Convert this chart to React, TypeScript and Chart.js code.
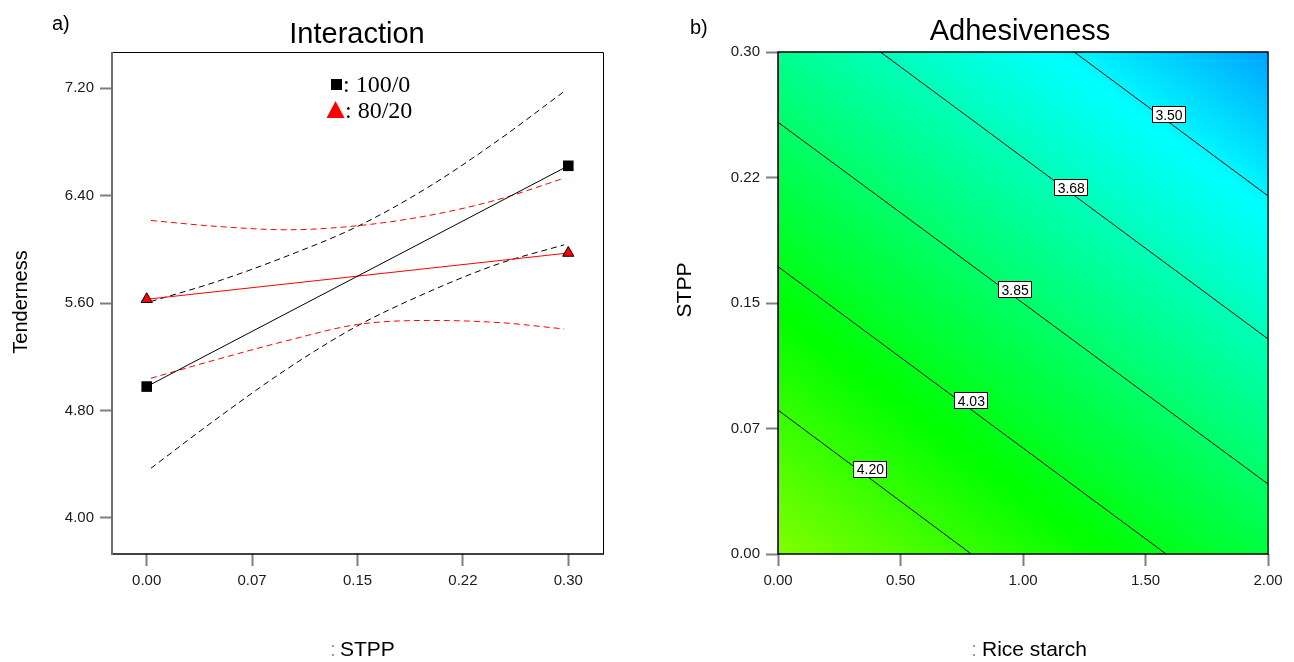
import React, { useEffect, useRef } from 'react';
import { Chart, registerables } from 'chart.js';

Chart.register(...registerables);

// ---------------- a) Interaction ----------------
const stppLevels = [0, 0.3];
const seriesNames = ['100/0', '80/20'];
const tender100 = [4.978, 6.621];
const tender8020 = [5.628, 5.972];
const ciX = [0.003, 0.05, 0.1, 0.15, 0.2, 0.25, 0.297];
const upper100 = [5.611, 5.76, 5.95, 6.17, 6.46, 6.81, 7.174];
const lower100 = [4.37, 4.74, 5.11, 5.43, 5.68, 5.89, 6.033];
const upper8020 = [6.214, 6.17, 6.145, 6.175, 6.25, 6.37, 6.529];
const lower8020 = [5.04, 5.18, 5.32, 5.44, 5.47, 5.455, 5.407];
const xTicksA = [0, 0.075, 0.15, 0.225, 0.3];
const xTickLabelsA = ['0.00', '0.07', '0.15', '0.22', '0.30'];
const yTicksA = [4.0, 4.8, 5.6, 6.4, 7.2];
const yTickLabelsA = ['4.00', '4.80', '5.60', '6.40', '7.20'];

// ---------------- b) Adhesiveness ----------------
const riceStarchEdges = [0, 2];
const stppEdges = [0, 0.3];
// rows: STPP = 0, STPP = 0.3 ; columns: rice starch = 0, 2
const adhesivenessCorners = [
  [4.375, 3.935],
  [3.765, 3.325],
];
const colorStopValues = [3.325, 3.52, 4.08, 4.375];
const colorStopRGB = [
  [0, 164, 255],
  [0, 255, 255],
  [0, 255, 0],
  [128, 255, 0],
];
const contourLevels = ['3.50', '3.68', '3.85', '4.03', '4.20'];
const contourStart = [
  [1.209, 0.3],
  [0.418, 0.3],
  [0, 0.258],
  [0, 0.1717],
  [0, 0.086],
];
const contourEnd = [
  [2, 0.214],
  [2, 0.1285],
  [2, 0.0418],
  [1.584, 0],
  [0.789, 0],
];
const contourLabelPos = [
  [1.596, 0.2624],
  [1.197, 0.219],
  [0.968, 0.158],
  [0.789, 0.0916],
  [0.377, 0.0505],
];
const xTicksB = [0, 0.5, 1, 1.5, 2];
const xTickLabelsB = ['0.00', '0.50', '1.00', '1.50', '2.00'];
const yTicksB = [0, 0.075, 0.15, 0.225, 0.3];
const yTickLabelsB = ['0.00', '0.07', '0.15', '0.22', '0.30'];

const SANS = '"Liberation Sans", Arial, Helvetica, sans-serif';
const SERIF = '"Liberation Serif", "Times New Roman", serif';

function makeScale(
  ticks: number[],
  labels: string[],
  min: number,
  max: number,
  size: number,
  horizontal: boolean
) {
  return {
    type: 'linear' as const,
    min,
    max,
    afterBuildTicks: (s: any) => {
      s.ticks = ticks.map((v) => ({ value: v }));
    },
    afterFit: (s: any) => {
      if (horizontal) s.height = size;
      else s.width = size;
    },
    ticks: {
      autoSkip: false,
      maxRotation: 0,
      padding: 6,
      color: '#1a1a1a',
      font: { family: SANS, size: 15 },
      callback: (_v: any, i: number) => labels[i],
    },
    grid: {
      display: true,
      drawOnChartArea: false,
      drawTicks: true,
      tickLength: 12,
      tickColor: '#7f7f7f',
      tickWidth: 2,
    },
    border: { display: false },
  };
}

function pts(xs: number[], ys: number[]) {
  return xs.map((x, i) => ({ x, y: ys[i] }));
}

function surface(r: number, s: number) {
  const u = (r - riceStarchEdges[0]) / (riceStarchEdges[1] - riceStarchEdges[0]);
  const v = (s - stppEdges[0]) / (stppEdges[1] - stppEdges[0]);
  const c = adhesivenessCorners;
  return (
    c[0][0] * (1 - u) * (1 - v) +
    c[0][1] * u * (1 - v) +
    c[1][0] * (1 - u) * v +
    c[1][1] * u * v
  );
}

function colorFor(f: number) {
  const n = colorStopValues.length;
  if (f <= colorStopValues[0]) return colorStopRGB[0];
  if (f >= colorStopValues[n - 1]) return colorStopRGB[n - 1];
  for (let i = 0; i < n - 1; i++) {
    const a = colorStopValues[i];
    const b = colorStopValues[i + 1];
    if (f >= a && f <= b) {
      const t = (f - a) / (b - a);
      const ca = colorStopRGB[i];
      const cb = colorStopRGB[i + 1];
      return [0, 1, 2].map((k) => Math.round(ca[k] + (cb[k] - ca[k]) * t));
    }
  }
  return colorStopRGB[0];
}

function drawText(
  ctx: CanvasRenderingContext2D,
  text: string,
  x: number,
  y: number,
  font: string,
  align: CanvasTextAlign = 'center',
  color = '#000',
  rotate = 0
) {
  ctx.save();
  ctx.font = font;
  ctx.fillStyle = color;
  ctx.textAlign = align;
  ctx.textBaseline = 'alphabetic';
  ctx.translate(x, y);
  if (rotate) ctx.rotate(rotate);
  ctx.fillText(text, 0, 0);
  ctx.restore();
}

const decorA = {
  id: 'decorA',
  afterDraw(chart: any) {
    const { ctx, chartArea: a } = chart;
    ctx.save();
    // frame
    ctx.strokeStyle = '#000';
    ctx.lineWidth = 1;
    ctx.beginPath();
    ctx.moveTo(a.left, a.top + 0.5);
    ctx.lineTo(a.right + 0.5, a.top + 0.5);
    ctx.lineTo(a.right + 0.5, a.bottom);
    ctx.stroke();
    ctx.lineWidth = 1.5;
    ctx.beginPath();
    ctx.moveTo(a.left, a.bottom);
    ctx.lineTo(a.right + 1, a.bottom);
    ctx.stroke();
    ctx.strokeStyle = '#6f6f6f';
    ctx.lineWidth = 2;
    ctx.beginPath();
    ctx.moveTo(a.left, a.top);
    ctx.lineTo(a.left, a.bottom + 1);
    ctx.stroke();

    // legend
    const lx = a.left + 219;
    ctx.fillStyle = '#000';
    ctx.fillRect(lx, 79, 11, 11);
    drawText(ctx, ': ' + seriesNames[0], lx + 12, 92, `24px ${SERIF}`, 'left');
    ctx.fillStyle = '#ff0000';
    ctx.beginPath();
    ctx.moveTo(lx + 4.5, 101);
    ctx.lineTo(lx + 13.5, 118);
    ctx.lineTo(lx - 4.5, 118);
    ctx.closePath();
    ctx.fill();
    drawText(ctx, ': ' + seriesNames[1], lx + 14, 118, `24px ${SERIF}`, 'left');

    // titles
    drawText(ctx, 'a)', 52, 30, `20px ${SANS}`, 'left');
    drawText(ctx, 'Interaction', 357, 43, `29px ${SANS}`);
    drawText(ctx, 'Tenderness', 27, 302, `20px ${SANS}`, 'center', '#000', -Math.PI / 2);
    drawText(ctx, ':', 330, 656, `21px ${SANS}`, 'left', '#999');
    drawText(ctx, 'STPP', 340, 656, `21px ${SANS}`, 'left');
    ctx.restore();
  },
};

const heatmap = {
  id: 'heatmap',
  beforeDatasetsDraw(chart: any) {
    const { ctx, chartArea: a, scales } = chart;
    const xs = scales.x;
    const ys = scales.y;
    const w = Math.round(a.right - a.left);
    const h = Math.round(a.bottom - a.top);
    const off = document.createElement('canvas');
    off.width = w;
    off.height = h;
    const octx = off.getContext('2d')!;
    const img = octx.createImageData(w, h);
    for (let j = 0; j < h; j++) {
      const s = ys.getValueForPixel(a.top + j + 0.5);
      for (let i = 0; i < w; i++) {
        const r = xs.getValueForPixel(a.left + i + 0.5);
        const c = colorFor(surface(r, s));
        const k = (j * w + i) * 4;
        img.data[k] = c[0];
        img.data[k + 1] = c[1];
        img.data[k + 2] = c[2];
        img.data[k + 3] = 255;
      }
    }
    octx.putImageData(img, 0, 0);
    ctx.drawImage(off, a.left, a.top, a.right - a.left, a.bottom - a.top);
  },
};

const decorB = {
  id: 'decorB',
  afterDraw(chart: any) {
    const { ctx, chartArea: a, scales } = chart;
    ctx.save();
    // contour labels
    contourLabelPos.forEach((p, i) => {
      const px = scales.x.getPixelForValue(p[0]);
      const py = scales.y.getPixelForValue(p[1]);
      const bw = 34;
      const bh = 17;
      ctx.fillStyle = '#fff';
      ctx.fillRect(Math.round(px - bw / 2), Math.round(py - bh / 2), bw, bh);
      ctx.strokeStyle = '#000';
      ctx.lineWidth = 1;
      ctx.strokeRect(Math.round(px - bw / 2) + 0.5, Math.round(py - bh / 2) + 0.5, bw - 1, bh - 1);
      drawText(ctx, contourLevels[i], px, py + 5, `14px ${SANS}`);
    });
    // frame
    ctx.strokeStyle = '#000';
    ctx.lineWidth = 1.5;
    ctx.strokeRect(a.left, a.top, a.right - a.left, a.bottom - a.top);

    drawText(ctx, 'b)', 43, 34, `20px ${SANS}`, 'left');
    drawText(ctx, 'Adhesiveness', 373, 40, `29px ${SANS}`);
    drawText(ctx, 'STPP', 44, 290, `21px ${SANS}`, 'center', '#000', -Math.PI / 2);
    drawText(ctx, ':', 324, 656, `21px ${SANS}`, 'left', '#999');
    drawText(ctx, 'Rice starch', 335, 656, `21px ${SANS}`, 'left');
    ctx.restore();
  },
};

function configA(): any {
  return {
    type: 'scatter',
    data: {
      datasets: [
        {
          label: seriesNames[0],
          data: pts(stppLevels, tender100),
          showLine: true,
          borderColor: '#000',
          borderWidth: 1,
          backgroundColor: '#000',
          pointStyle: 'rect',
          pointRadius: 7.5,
          pointBorderWidth: 0,
          order: 0,
        },
        {
          label: seriesNames[1],
          data: pts(stppLevels, tender8020),
          showLine: true,
          borderColor: '#ff0000',
          borderWidth: 1,
          backgroundColor: '#ff0000',
          pointStyle: 'triangle',
          pointRadius: 6.5,
          pointBorderColor: '#000',
          pointBorderWidth: 1,
          order: 1,
        },
        ...[upper100, lower100].map((d, i) => ({
          label: 'ci100-' + i,
          data: pts(ciX, d),
          showLine: true,
          borderColor: '#000',
          borderWidth: 1,
          borderDash: [6, 4],
          pointRadius: 0,
          cubicInterpolationMode: 'monotone',
          order: 3,
        })),
        ...[upper8020, lower8020].map((d, i) => ({
          label: 'ci8020-' + i,
          data: pts(ciX, d),
          showLine: true,
          borderColor: '#ff0000',
          borderWidth: 1,
          borderDash: [6, 4],
          pointRadius: 0,
          cubicInterpolationMode: 'monotone',
          order: 2,
        })),
      ],
    },
    options: {
      animation: false,
      responsive: false,
      devicePixelRatio: 1,
      layout: { padding: { left: 0, top: 52, right: 44, bottom: 0 } },
      plugins: { legend: { display: false }, tooltip: { enabled: false }, title: { display: false } },
      scales: {
        x: makeScale(xTicksA, xTickLabelsA, -0.0247, 0.3247, 108, true),
        y: makeScale(yTicksA, yTickLabelsA, 3.732, 7.468, 112, false),
      },
    },
    plugins: [decorA],
  };
}

function configB(): any {
  return {
    type: 'scatter',
    data: {
      datasets: contourLevels.map((lvl, i) => ({
        label: lvl,
        data: [
          { x: contourStart[i][0], y: contourStart[i][1] },
          { x: contourEnd[i][0], y: contourEnd[i][1] },
        ],
        showLine: true,
        borderColor: '#000',
        borderWidth: 1,
        pointRadius: 0,
      })),
    },
    options: {
      animation: false,
      responsive: false,
      devicePixelRatio: 1,
      layout: { padding: { left: 0, top: 52, right: 26, bottom: 0 } },
      plugins: { legend: { display: false }, tooltip: { enabled: false }, title: { display: false } },
      scales: {
        x: makeScale(xTicksB, xTickLabelsB, 0, 2, 108, true),
        y: makeScale(yTicksB, yTickLabelsB, 0, 0.3, 131, false),
      },
    },
    plugins: [heatmap, decorB],
  };
}

export default function App() {
  const refA = useRef<HTMLCanvasElement>(null);
  const refB = useRef<HTMLCanvasElement>(null);
  useEffect(() => {
    const a = new Chart(refA.current as HTMLCanvasElement, configA());
    const b = new Chart(refB.current as HTMLCanvasElement, configB());
    return () => {
      a.destroy();
      b.destroy();
    };
  }, []);
  return (
    <div style={{ position: 'fixed', left: 0, top: 0, width: 1294, height: 662, background: '#fff' }}>
      <canvas
        ref={refA}
        width={647}
        height={662}
        style={{ position: 'absolute', left: 0, top: 0, width: 647, height: 662 }}
      />
      <canvas
        ref={refB}
        width={647}
        height={662}
        style={{ position: 'absolute', left: 647, top: 0, width: 647, height: 662 }}
      />
    </div>
  );
}
